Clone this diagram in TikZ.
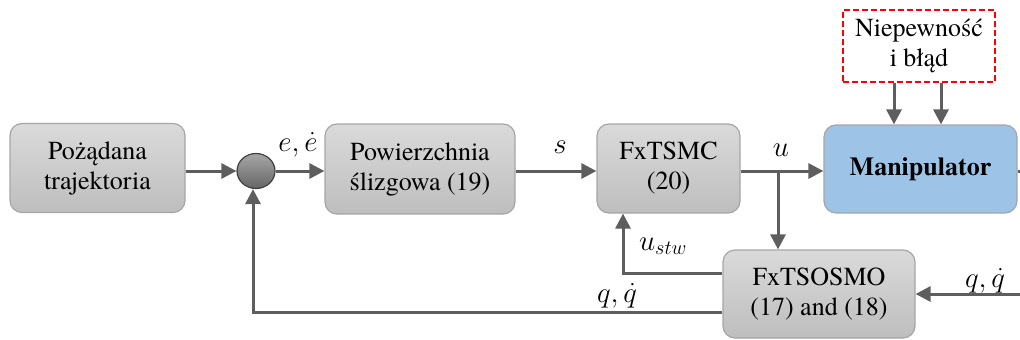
\RequirePackage{fix-cm}
\documentclass[tikz,border=0pt]{standalone}
\usepackage{fontspec}
\setmainfont{texgyretermes}[Extension=.otf,UprightFont=*-regular,
  BoldFont=*-bold,ItalicFont=*-italic,BoldItalicFont=*-bolditalic]
\usetikzlibrary{arrows.meta,calc,shapes.geometric}
\definecolor{wire}{HTML}{5E5E5E}
\definecolor{boxedge}{HTML}{A6A6A6}
\definecolor{boxtop}{HTML}{DADADA}
\definecolor{boxbot}{HTML}{BEBEBE}
\definecolor{plant}{HTML}{9DC3E6}
\begin{document}
\begin{tikzpicture}[x=1pt,y=-1pt,
  font=\fontsize{26}{30}\selectfont,
  blk/.style={draw=boxedge,line width=1.2pt,rounded corners=12pt,
    top color=boxtop,bottom color=boxbot,align=center,inner sep=0pt},
  plantbox/.style={draw=boxedge,line width=1.2pt,rounded corners=12pt,
    fill=plant,align=center,inner sep=0pt},
  sumnode/.style={draw=black!75,line width=1.2pt,ellipse,
    top color=black!35,bottom color=black!60,inner sep=0pt},
  note/.style={draw=red,line width=2pt,dash pattern=on 6pt off 3pt,
    align=center,inner sep=0pt},
  wirearrow/.style={draw=wire,line width=3pt,
    -{Triangle[length=15pt,width=15pt]}},
  wireline/.style={draw=wire,line width=3pt},
  lbl/.style={inner sep=0pt,font=\fontsize{29}{34}\selectfont}]
\useasboundingbox (0,0) rectangle (1020,340);

% blocks
\node[blk,minimum width=175pt,minimum height=89pt] (traj) at (97.5,168) {Pożądana\\trajektoria};
\node[sumnode,minimum width=38pt,minimum height=35pt] (sum) at (256,171) {};
\node[blk,minimum width=190pt,minimum height=90pt] (surf) at (420,169) {Powierzchnia\\ślizgowa (19)};
\node[blk,minimum width=143pt,minimum height=89pt] (ctrl) at (668.5,168.5) {FxTSMC\\(20)};
\node[plantbox,minimum width=193pt,minimum height=88pt] (manip) at (920.5,169) {\textbf{Manipulator}};
\node[note,minimum width=152pt,minimum height=72pt] (dist) at (919,46) {Niepewność\\i błąd};
\node[blk,minimum width=192pt,minimum height=88pt] (obs) at (819,294) {FxTSOSMO\\(17) and (18)};

% free ends and branch points
\coordinate (outR) at (1020,171);
\coordinate (inR) at (1020,294);
\coordinate (ubr) at (778,171);

% forward path
\draw[wirearrow] (traj.east |- sum) -- (sum.west);
\draw[wirearrow] (sum.east) -- (surf.west |- sum);
\draw[wirearrow] (surf.east |- sum) -- (ctrl.west |- sum);
\draw[wirearrow] (ctrl.east |- sum) -- (manip.west |- sum);
\draw[wireline] (manip.east |- sum) -- (outR);

% disturbance inputs
\draw[wirearrow] (dist.south -| 894,0) -- (manip.north -| 894,0);
\draw[wirearrow] (dist.south -| 941,0) -- (manip.north -| 941,0);

% observer connections
\draw[wirearrow] (ubr) -- (ubr |- obs.north);
\draw[wirearrow] (obs.west |- 0,273) -| (ctrl.south -| 623,0);
\draw[wirearrow] (obs.west |- 0,312) -| (sum.south -| 253,0);
\draw[wirearrow] (inR) -- (obs.east |- inR);

% signal labels
\node[lbl] (lE) at (298,145) {$e,\dot e$};
\node[lbl] (lS) at (560,147) {$s$};
\node[lbl] (lU) at (781,150) {$u$};
\node[lbl] (lUs) at (663,246) {$u_{stw}$};
\node[lbl] (lQ) at (617,296) {$q,\dot q$};
\node[lbl] (lQr) at (985,281) {$q,\dot q$};
\end{tikzpicture}
\end{document}
